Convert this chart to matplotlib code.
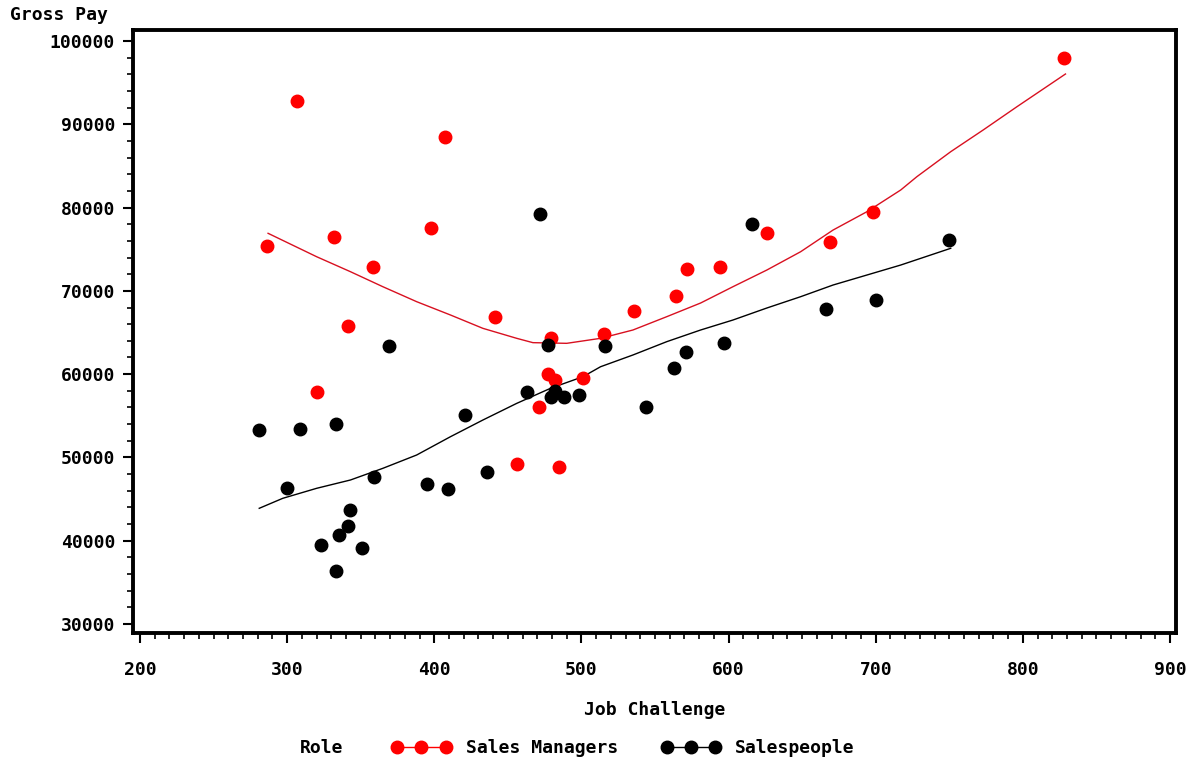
""" Gross pay against job challenge, split by role, with smoothed trend lines """

import matplotlib
matplotlib.use("Agg")
import matplotlib.pyplot as plt
from matplotlib.lines import Line2D
from matplotlib.ticker import MultipleLocator

# sales managers (red)
mgr_challenge = [286, 307, 332, 358, 341, 320, 398, 407, 441, 479, 477, 482,
                 501, 471, 456, 485, 515, 536, 564, 572, 594, 626, 669, 698, 828]
mgr_pay       = [75390, 92800, 76470, 72860, 65780, 57850, 77550, 88470, 66860,
                 64340, 60020, 59300, 59540, 56050, 49210, 48850, 64820, 67580,
                 69380, 72620, 72860, 76950, 75870, 79470, 97960]

# salespeople (black)
sp_challenge = [281, 309, 333, 369, 300, 359, 343, 341, 335, 323, 351, 333,
                395, 409, 421, 436, 463, 477, 479, 482, 488, 498, 516, 472,
                544, 563, 571, 597, 616, 666, 700, 750]
sp_pay       = [53290, 53410, 54010, 63380, 46330, 47650, 43690, 41770, 40690,
                39480, 39120, 36360, 46810, 46210, 55090, 48250, 57850, 63500,
                57260, 57980, 57260, 57500, 63380, 79230, 56050, 60740, 62660,
                63740, 78030, 67820, 68900, 76110]

# smoothed fit, sales managers
mgr_fit_x = [287, 320, 343, 365, 388, 411, 433, 456, 467, 490, 513, 535, 558,
             581, 603, 626, 649, 671, 694, 717, 728, 751, 773, 796, 829]
mgr_fit_y = [76910, 74100, 72300, 70500, 68700, 67100, 65500, 64300, 63780,
             63700, 64300, 65300, 66900, 68540, 70500, 72500, 74700, 77300,
             79500, 82110, 83710, 86710, 89310, 92110, 96040]

# smoothed fit, salespeople
sp_fit_x = [281, 297, 320, 343, 365, 388, 411, 433, 456, 479, 501, 513, 535,
            558, 581, 603, 626, 649, 671, 694, 717, 751]
sp_fit_y = [43890, 45090, 46290, 47290, 48690, 50290, 52490, 54490, 56490,
            58300, 59690, 60890, 62300, 63900, 65300, 66500, 67940, 69300,
            70700, 71900, 73100, 75110]

RED   = "#ff0000"
BLACK = "#000000"
FONT  = "DejaVu Sans Mono"
FSIZE = 13

plt.rcParams["font.family"] = FONT
plt.rcParams["font.weight"] = "bold"

fig = plt.figure(figsize=(11.94, 7.64), dpi=100)
ax = fig.add_axes([0.1114, 0.1715, 0.8735, 0.7892])

ax.plot(mgr_fit_x, mgr_fit_y, color="#d81020", linewidth=1.0, zorder=2)
ax.plot(sp_fit_x, sp_fit_y, color=BLACK, linewidth=1.0, zorder=2)
ax.plot(mgr_challenge, mgr_pay, linestyle="none", marker="o", markersize=9,
        color=RED, zorder=3)
ax.plot(sp_challenge, sp_pay, linestyle="none", marker="o", markersize=9,
        color=BLACK, zorder=3)

ax.set_xlim(195.2, 904.1)
ax.set_ylim(28920, 101320)

ax.xaxis.set_major_locator(MultipleLocator(100))
ax.xaxis.set_minor_locator(MultipleLocator(10))
ax.yaxis.set_major_locator(MultipleLocator(10000))
ax.yaxis.set_minor_locator(MultipleLocator(2000))

for side in ax.spines.values():
    side.set_linewidth(2.8)

ax.tick_params(axis="both", which="major", direction="out", length=7,
               width=1.5, labelsize=FSIZE)
ax.tick_params(axis="both", which="minor", direction="out", length=4, width=1.2)
ax.tick_params(axis="x", which="major", pad=13)
ax.tick_params(axis="y", which="major", pad=6)
for lbl in ax.get_xticklabels() + ax.get_yticklabels():
    lbl.set_fontweight("bold")

ax.set_xlabel("Job Challenge", fontsize=FSIZE, fontweight="bold", labelpad=16)
fig.text(0.008, 0.980, "Gross Pay", fontsize=FSIZE, fontweight="bold",
         ha="left", va="center")

# legend
handles = [Line2D([0], [0], color=RED, marker="o", markersize=9, linewidth=1.0),
           Line2D([0], [0], color=BLACK, marker="o", markersize=9, linewidth=1.0)]
fig.legend(handles, ["Sales Managers", "Salespeople"], loc="center",
           bbox_to_anchor=(0.522, 0.021), ncol=2, frameon=False, numpoints=3,
           handlelength=3.3, handletextpad=0.8, columnspacing=2.4,
           prop={"family": FONT, "weight": "bold", "size": FSIZE})
fig.text(0.269, 0.021, "Role", fontsize=FSIZE, fontweight="bold",
         ha="center", va="center")

fig.savefig("out.png", dpi=100)
